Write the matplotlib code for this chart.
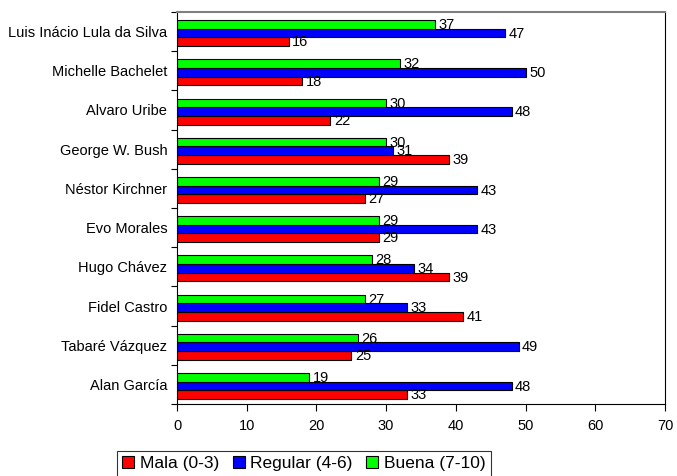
import matplotlib
matplotlib.use("Agg")
import matplotlib.pyplot as plt
import numpy as np

plt.rcParams['font.family'] = ['Liberation Sans', 'DejaVu Sans']

categories = ["Luis Inácio Lula da Silva", "Michelle Bachelet", "Alvaro Uribe",
              "George W. Bush", "Néstor Kirchner", "Evo Morales", "Hugo Chávez",
              "Fidel Castro", "Tabaré Vázquez", "Alan García"]
mala = [16, 18, 22, 39, 27, 29, 39, 41, 25, 33]
regular = [47, 50, 48, 31, 43, 43, 34, 33, 49, 48]
buena = [37, 32, 30, 30, 29, 29, 28, 27, 26, 19]
series_names = ["Mala (0-3)", "Regular (4-6)", "Buena (7-10)"]
colors = ["#FF0000", "#0000FF", "#00FF00"]
xticks = [0, 10, 20, 30, 40, 50, 60, 70]

fs = 10.5
fig = plt.figure(figsize=(6.77, 4.76), dpi=100)
ax = fig.add_axes([177/677, 1-404/476, 488/677, 392/476])

n = len(categories)
y = np.arange(n)[::-1].astype(float) - 0.04
h = 0.22
offsets = [-h, 0, h]
handles = []
for vals, off, c, name in zip([mala, regular, buena], offsets, colors, series_names):
    bars = ax.barh(y + off, vals, height=h, color=c, edgecolor='black', linewidth=0.8, label=name)
    handles.append(bars)
    for yy, v in zip(y + off, vals):
        ax.annotate(str(v), (v, yy), xytext=(2.5, -0.5), textcoords='offset points',
                    va='center', ha='left', fontsize=fs)

ax.set_xlim(0, 70)
ax.set_ylim(-0.5, n - 0.5)
ax.set_xticks(xticks)
ax.set_xticklabels([str(t) for t in xticks], fontsize=fs)
ax.set_yticks(np.arange(n + 1) - 0.5)
ax.set_yticklabels([])
ax.set_yticks(np.arange(n)[::-1].astype(float), minor=True)
ax.set_yticklabels(categories, minor=True, fontsize=fs)
ax.tick_params(axis='y', which='minor', length=0, pad=7)
ax.tick_params(axis='y', which='major', length=4, width=0.8, direction='out')
ax.tick_params(axis='x', length=5, width=0.8, direction='out', pad=6)
for s in ['left', 'right', 'bottom']:
    ax.spines[s].set_color('black')
    ax.spines[s].set_linewidth(0.8)
ax.spines['top'].set_color('#7f7f7f')
ax.spines['top'].set_linewidth(1.5)

leg = fig.legend(handles=handles, labels=series_names, loc='upper left',
                 bbox_to_anchor=(117/677, 1-451/476), ncol=3, fontsize=12.5,
                 frameon=True, fancybox=False, edgecolor='black',
                 handlelength=0.7, handleheight=0.7, handletextpad=0.3,
                 columnspacing=0.8, borderpad=0.3, borderaxespad=0)
leg.get_frame().set_linewidth(0.8)

fig.savefig("out.png", dpi=100)
